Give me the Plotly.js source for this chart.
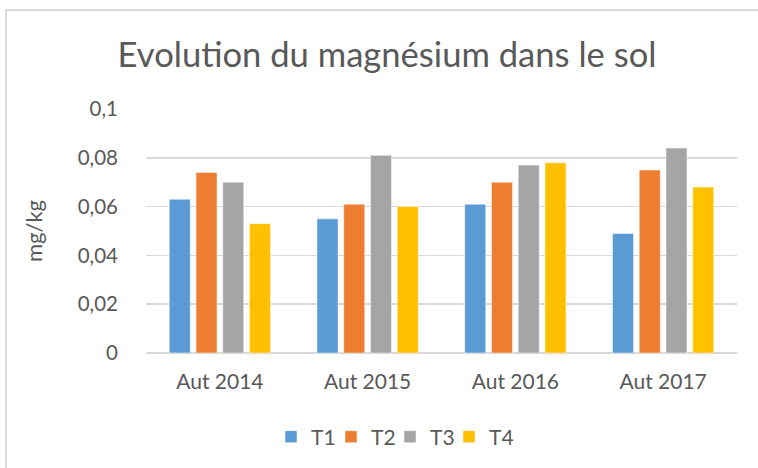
<!DOCTYPE html>
<html>
<head>
<meta charset="utf-8">
<script src="https://cdn.plot.ly/plotly-3.0.1.min.js"></script>
<style>
  html, body { margin: 0; padding: 0; background: #ffffff; }
  #chart { position: absolute; left: 0; top: 0; width: 758px; height: 468px; }
  #frame { position: absolute; left: 5px; top: 9px; width: 760px; height: 470px;
           border-top: 2px solid #d9d9d9; border-left: 2px solid #d9d9d9; pointer-events: none; }
</style>
</head>
<body>
<div id="chart"></div>
<div id="frame"></div>
<script>
const categories = ["Aut 2014", "Aut 2015", "Aut 2016", "Aut 2017"];
const seriesNames = ["T1", "T2", "T3", "T4"];
const T1 = [0.063, 0.055, 0.061, 0.049];
const T2 = [0.074, 0.061, 0.070, 0.075];
const T3 = [0.070, 0.081, 0.077, 0.084];
const T4 = [0.053, 0.060, 0.078, 0.068];
const yTickVals = [0, 0.02, 0.04, 0.06, 0.08, 0.1];
const yTickText = ["0", "0,02", "0,04", "0,06", "0,08", "0,1"];
const colors = ["#5B9BD5", "#ED7D31", "#A5A5A5", "#FFC000"];

const seriesValues = [T1, T2, T3, T4];
const font = "Lato, 'Open Sans', sans-serif";
const textColor = "#595959";
const legendIds = ["legend", "legend2", "legend3", "legend4"];
const legendLeft = [271, 331, 390, 449];

const traces = seriesValues.map((vals, i) => ({
  type: "bar",
  name: seriesNames[i],
  x: categories,
  y: vals,
  legend: legendIds[i],
  marker: { color: colors[i], line: { color: "#ffffff", width: 0.5 } },
  hoverinfo: "none"
}));

const layout = {
  width: 758,
  height: 468,
  margin: { l: 146, r: 21, t: 108.6, b: 115.3, pad: 0 },
  paper_bgcolor: "#ffffff",
  plot_bgcolor: "#ffffff",
  font: { family: font, color: textColor, size: 21 },
  title: {
    text: "Evolution du magnésium dans le sol",
    font: { family: font, size: 34.6, color: textColor },
    x: 387 / 758, xanchor: "center", xref: "container",
    y: 1 - 55 / 468, yanchor: "middle", yref: "container"
  },
  barmode: "group",
  bargap: 0.276,
  bargroupgap: 0.213,
  xaxis: {
    type: "category",
    showgrid: false,
    showline: false,
    zeroline: false,
    ticks: "",
    tickfont: { family: font, size: 21, color: textColor },
    ticklabelstandoff: 14
  },
  yaxis: {
    range: [0, 0.1],
    tickvals: yTickVals,
    ticktext: yTickText,
    showgrid: true,
    gridcolor: "#d9d9d9",
    gridwidth: 1.5,
    zeroline: true,
    zerolinecolor: "#d9d9d9",
    zerolinewidth: 1.5,
    showline: false,
    ticks: "",
    ticklabelstandoff: 27,
    tickfont: { family: font, size: 20.5, color: textColor },
    title: { text: "mg/kg", font: { family: font, size: 22, color: textColor }, standoff: 28 }
  },
  showlegend: true
};

legendIds.forEach((id, i) => {
  layout[id] = {
    orientation: "h",
    x: legendLeft[i] / 758, xanchor: "left", xref: "container",
    y: 1 - 437 / 468, yanchor: "middle", yref: "container",
    font: { family: font, size: 21, color: textColor },
    itemwidth: 30,
    bgcolor: "rgba(0,0,0,0)"
  };
});

Plotly.newPlot("chart", traces, layout, { staticPlot: true, displayModeBar: false });
</script>
</body>
</html>
